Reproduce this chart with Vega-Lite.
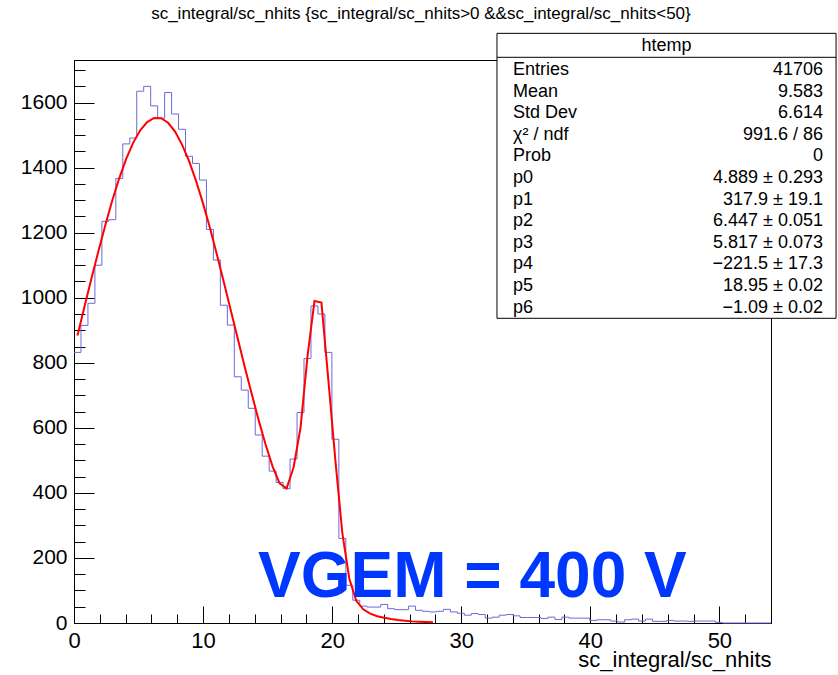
{
  "$schema": "https://vega.github.io/schema/vega-lite/v6.json",
  "width": 697,
  "height": 563,
  "autosize": {"type": "none"},
  "padding": {"left": 74, "top": 60, "right": 67, "bottom": 52},
  "background": "#ffffff",
  "config": {
    "font": "Liberation Sans",
    "view": {"stroke": "#000000", "strokeWidth": 1},
    "axis": {"grid": false, "labelFont": "Liberation Sans", "titleFont": "Liberation Sans", "labelColor": "#000000", "titleColor": "#000000", "tickColor": "#000000", "domainColor": "#000000"}
  },
  "datasets": {
    "hist": [
      {"lo": 0, "n": 832}, {"lo": 0.54, "n": 915}, {"lo": 1.08, "n": 983}, {"lo": 1.62, "n": 1100}, {"lo": 2.16, "n": 1235},
      {"lo": 2.7, "n": 1240}, {"lo": 3.24, "n": 1367}, {"lo": 3.78, "n": 1473}, {"lo": 4.32, "n": 1491}, {"lo": 4.86, "n": 1635},
      {"lo": 5.4, "n": 1650}, {"lo": 5.94, "n": 1590}, {"lo": 6.48, "n": 1552}, {"lo": 7.02, "n": 1631}, {"lo": 7.56, "n": 1565},
      {"lo": 8.1, "n": 1518}, {"lo": 8.64, "n": 1435}, {"lo": 9.18, "n": 1413}, {"lo": 9.72, "n": 1362}, {"lo": 10.26, "n": 1210},
      {"lo": 10.8, "n": 1116}, {"lo": 11.34, "n": 977}, {"lo": 11.88, "n": 916}, {"lo": 12.42, "n": 757}, {"lo": 12.96, "n": 716},
      {"lo": 13.5, "n": 660}, {"lo": 14.04, "n": 578}, {"lo": 14.58, "n": 513}, {"lo": 15.12, "n": 467}, {"lo": 15.66, "n": 432},
      {"lo": 16.2, "n": 413}, {"lo": 16.74, "n": 504}, {"lo": 17.28, "n": 647}, {"lo": 17.82, "n": 813}, {"lo": 18.36, "n": 975},
      {"lo": 18.9, "n": 950}, {"lo": 19.44, "n": 832}, {"lo": 19.98, "n": 565}, {"lo": 20.52, "n": 260}, {"lo": 21.06, "n": 116},
      {"lo": 21.6, "n": 70}, {"lo": 22.14, "n": 52}, {"lo": 22.68, "n": 49}, {"lo": 23.22, "n": 49}, {"lo": 23.76, "n": 57},
      {"lo": 24.3, "n": 44}, {"lo": 24.84, "n": 41}, {"lo": 25.38, "n": 41}, {"lo": 25.92, "n": 52}, {"lo": 26.46, "n": 39},
      {"lo": 27, "n": 36}, {"lo": 27.54, "n": 34}, {"lo": 28.08, "n": 36}, {"lo": 28.62, "n": 42}, {"lo": 29.16, "n": 34},
      {"lo": 29.7, "n": 30}, {"lo": 30.24, "n": 24}, {"lo": 30.78, "n": 29}, {"lo": 31.32, "n": 26}, {"lo": 31.86, "n": 15},
      {"lo": 32.4, "n": 18}, {"lo": 32.94, "n": 24}, {"lo": 33.48, "n": 26}, {"lo": 34.02, "n": 22}, {"lo": 34.56, "n": 17},
      {"lo": 35.1, "n": 17}, {"lo": 35.64, "n": 17}, {"lo": 36.18, "n": 14}, {"lo": 36.72, "n": 18}, {"lo": 37.26, "n": 11},
      {"lo": 37.8, "n": 18}, {"lo": 38.34, "n": 15}, {"lo": 38.88, "n": 15}, {"lo": 39.42, "n": 15}, {"lo": 39.96, "n": 8},
      {"lo": 40.5, "n": 10}, {"lo": 41.04, "n": 10}, {"lo": 41.58, "n": 6}, {"lo": 42.12, "n": 3}, {"lo": 42.66, "n": 10},
      {"lo": 43.2, "n": 12}, {"lo": 43.74, "n": 6}, {"lo": 44.28, "n": 12}, {"lo": 44.82, "n": 5}, {"lo": 45.36, "n": 5},
      {"lo": 45.9, "n": 8}, {"lo": 46.44, "n": 6}, {"lo": 46.98, "n": 6}, {"lo": 47.52, "n": 5}, {"lo": 48.06, "n": 6},
      {"lo": 48.6, "n": 6}, {"lo": 49.14, "n": 6}, {"lo": 49.68, "n": 2}, {"lo": 50.22, "n": 0}, {"lo": 50.76, "n": 0},
      {"lo": 51.3, "n": 0}, {"lo": 51.84, "n": 0}, {"lo": 52.38, "n": 0}, {"lo": 52.92, "n": 0}, {"lo": 53.46, "n": 0},
      {"lo": 54, "n": 0}
    ],
    "fit": [
      {"x": 0.27, "f": 884}, {"x": 0.81, "f": 972}, {"x": 1.35, "f": 1059}, {"x": 1.89, "f": 1143}, {"x": 2.43, "f": 1224},
      {"x": 2.97, "f": 1300}, {"x": 3.51, "f": 1368}, {"x": 4.05, "f": 1428}, {"x": 4.59, "f": 1477}, {"x": 5.13, "f": 1515},
      {"x": 5.67, "f": 1540}, {"x": 6.21, "f": 1553}, {"x": 6.75, "f": 1552}, {"x": 7.29, "f": 1538}, {"x": 7.83, "f": 1511},
      {"x": 8.37, "f": 1471}, {"x": 8.91, "f": 1421}, {"x": 9.45, "f": 1360}, {"x": 9.99, "f": 1291}, {"x": 10.53, "f": 1215},
      {"x": 11.07, "f": 1133}, {"x": 11.61, "f": 1048}, {"x": 12.15, "f": 961}, {"x": 12.69, "f": 874}, {"x": 13.23, "f": 787},
      {"x": 13.77, "f": 704}, {"x": 14.31, "f": 623}, {"x": 14.85, "f": 548}, {"x": 15.39, "f": 481}, {"x": 15.93, "f": 429},
      {"x": 16.47, "f": 414}, {"x": 17.01, "f": 478}, {"x": 17.55, "f": 600}, {"x": 18.09, "f": 820}, {"x": 18.63, "f": 990},
      {"x": 19.17, "f": 985}, {"x": 19.71, "f": 745}, {"x": 20.25, "f": 500}, {"x": 20.79, "f": 276}, {"x": 21.33, "f": 136},
      {"x": 21.87, "f": 68}, {"x": 22.41, "f": 42}, {"x": 22.95, "f": 29}, {"x": 23.49, "f": 21}, {"x": 24.03, "f": 16},
      {"x": 24.57, "f": 12}, {"x": 25.11, "f": 9}, {"x": 25.65, "f": 7}, {"x": 26.19, "f": 5}, {"x": 26.73, "f": 4},
      {"x": 27.27, "f": 3}, {"x": 27.81, "f": 2}
    ],
    "stats": [
      {"r": 1, "k": "Entries", "v": "41706"},
      {"r": 2, "k": "Mean", "v": "9.583"},
      {"r": 3, "k": "Std Dev", "v": "6.614"},
      {"r": 4, "k": "χ² / ndf", "v": "991.6 / 86"},
      {"r": 5, "k": "Prob", "v": "0"},
      {"r": 6, "k": "p0", "v": "4.889 ± 0.293"},
      {"r": 7, "k": "p1", "v": "317.9 ± 19.1"},
      {"r": 8, "k": "p2", "v": "6.447 ± 0.051"},
      {"r": 9, "k": "p3", "v": "5.817 ± 0.073"},
      {"r": 10, "k": "p4", "v": "−221.5 ± 17.3"},
      {"r": 11, "k": "p5", "v": "18.95 ± 0.02"},
      {"r": 12, "k": "p6", "v": "−1.09 ± 0.02"}
    ]
  },
  "layer": [
    {
      "layer": [
        {
          "data": {"name": "hist"},
          "mark": {"type": "line", "interpolate": "step-after", "color": "#6a6ad8", "strokeWidth": 1},
          "encoding": {
            "x": {"field": "lo", "type": "quantitative", "scale": {"domain": [0, 54], "nice": false, "zero": false},
              "axis": {"orient": "bottom", "values": [0, 10, 20, 30, 40, 50], "format": "d", "tickSize": -17, "tickWidth": 1, "domain": true, "domainWidth": 1,
                "labelFontSize": 22, "labelPadding": 24, "labelFlush": false, "labelOverlap": false,
                "title": "sc_integral/sc_nhits", "titleFontSize": 22, "titleFontWeight": "normal", "titleAnchor": "end", "titlePadding": -2}},
            "y": {"field": "n", "type": "quantitative", "scale": {"domain": [0, 1731], "nice": false},
              "axis": {"orient": "left", "values": [0, 200, 400, 600, 800, 1000, 1200, 1400, 1600], "format": "d", "tickSize": -20, "tickWidth": 1, "domain": true, "domainWidth": 1,
                "labelFontSize": 21, "labelPadding": 27, "labelFlush": false, "labelOverlap": false, "title": null}}
          }
        },
        {
          "data": {"name": "fit"},
          "mark": {"type": "line", "color": "#ff0000", "strokeWidth": 2},
          "encoding": {
            "x": {"field": "x", "type": "quantitative", "scale": {"domain": [0, 54], "nice": false, "zero": false},
              "axis": {"orient": "bottom", "values": [0, 2, 4, 6, 8, 10, 12, 14, 16, 18, 20, 22, 24, 26, 28, 30, 32, 34, 36, 38, 40, 42, 44, 46, 48, 50, 52, 54], "tickSize": -9, "tickWidth": 1, "labels": false, "domain": false, "title": null}},
            "y": {"field": "f", "type": "quantitative", "scale": {"domain": [0, 1731], "nice": false},
              "axis": {"orient": "left", "values": [0, 50, 100, 150, 200, 250, 300, 350, 400, 450, 500, 550, 600, 650, 700, 750, 800, 850, 900, 950, 1000, 1050, 1100, 1150, 1200, 1250, 1300, 1350, 1400, 1450, 1500, 1550, 1600, 1650, 1700], "tickSize": -11, "tickWidth": 1, "labels": false, "domain": false, "title": null}}
          }
        },
        {
          "data": {"values": [{"t": "VGEM = 400 V"}]},
          "mark": {"type": "text", "align": "left", "baseline": "alphabetic", "fontSize": 64, "fontWeight": "bold", "font": "Liberation Sans", "color": "#0037ff"},
          "encoding": {
            "x": {"datum": 14.26, "type": "quantitative", "scale": {"domain": [0, 54], "nice": false, "zero": false}, "axis": null},
            "y": {"datum": 79, "type": "quantitative", "scale": {"domain": [0, 1731], "nice": false}, "axis": null},
            "text": {"field": "t"}
          }
        },
        {
          "data": {"values": [{"t": "sc_integral/sc_nhits {sc_integral/sc_nhits>0 &&sc_integral/sc_nhits<50}"}]},
          "mark": {"type": "text", "align": "center", "baseline": "alphabetic", "fontSize": 17, "font": "Liberation Sans", "color": "#000000"},
          "encoding": {
            "x": {"datum": 26.88, "type": "quantitative", "scale": {"domain": [0, 54], "nice": false, "zero": false}, "axis": null},
            "y": {"datum": 1856, "type": "quantitative", "scale": {"domain": [0, 1731], "nice": false}, "axis": null},
            "text": {"field": "t"}
          }
        },
        {
          "data": {"values": [{"name": "htemp"}]},
          "mark": {"type": "rect", "fill": "#ffffff", "stroke": "#000000", "strokeWidth": 1},
          "encoding": {
            "x": {"datum": 32.77, "type": "quantitative", "scale": {"domain": [0, 54], "nice": false, "zero": false}, "axis": null},
            "x2": {"datum": 59.04},
            "y": {"datum": 1813, "type": "quantitative", "scale": {"domain": [0, 1731], "nice": false}, "axis": null},
            "y2": {"datum": 936.8}
          }
        },
        {
          "data": {"values": [{"name": "htemp"}]},
          "mark": {"type": "rule", "color": "#000000", "strokeWidth": 1},
          "encoding": {
            "x": {"datum": 32.77, "type": "quantitative", "scale": {"domain": [0, 54], "nice": false, "zero": false}, "axis": null},
            "x2": {"datum": 59.04},
            "y": {"datum": 1739.3, "type": "quantitative", "scale": {"domain": [0, 1731], "nice": false}, "axis": null}
          }
        },
        {
          "data": {"values": [{"name": "htemp"}]},
          "mark": {"type": "text", "align": "center", "baseline": "alphabetic", "fontSize": 18, "font": "Liberation Sans", "color": "#000000"},
          "encoding": {
            "x": {"datum": 45.9, "type": "quantitative", "scale": {"domain": [0, 54], "nice": false, "zero": false}, "axis": null},
            "y": {"datum": 1757.7, "type": "quantitative", "scale": {"domain": [0, 1731], "nice": false}, "axis": null},
            "text": {"field": "name"}
          }
        }
      ],
      "resolve": {"axis": {"x": "independent", "y": "independent"}}
    },
    {
      "data": {"name": "stats"},
      "layer": [
        {
          "mark": {"type": "text", "align": "left", "baseline": "alphabetic", "fontSize": 18, "font": "Liberation Sans", "color": "#000000"},
          "encoding": {
            "x": {"datum": 34.01, "type": "quantitative", "scale": {"domain": [0, 54], "nice": false, "zero": false}, "axis": null},
            "y": {"field": "r", "type": "quantitative", "scale": {"domain": [0.306, 26.37], "nice": false, "zero": false, "reverse": true}, "axis": null},
            "text": {"field": "k"}
          }
        },
        {
          "mark": {"type": "text", "align": "right", "baseline": "alphabetic", "fontSize": 18, "font": "Liberation Sans", "color": "#000000"},
          "encoding": {
            "x": {"datum": 58.03, "type": "quantitative", "scale": {"domain": [0, 54], "nice": false, "zero": false}, "axis": null},
            "y": {"field": "r", "type": "quantitative", "scale": {"domain": [0.306, 26.37], "nice": false, "zero": false, "reverse": true}, "axis": null},
            "text": {"field": "v"}
          }
        }
      ]
    }
  ],
  "resolve": {"scale": {"y": "independent"}}
}
